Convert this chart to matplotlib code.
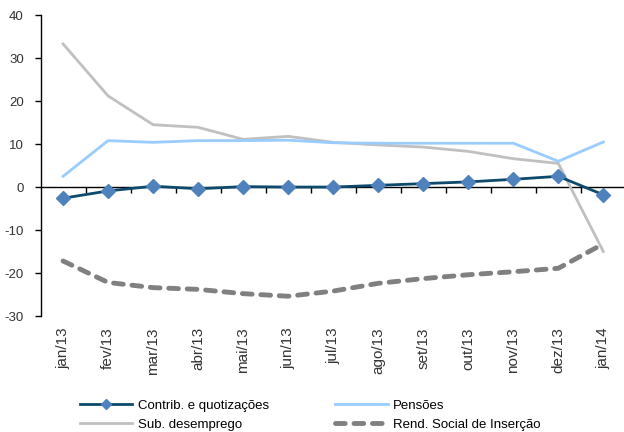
import matplotlib
matplotlib.use("Agg")
import matplotlib.pyplot as plt
import numpy as np

months = ["jan/13", "fev/13", "mar/13", "abr/13", "mai/13", "jun/13", "jul/13",
          "ago/13", "set/13", "out/13", "nov/13", "dez/13", "jan/14"]

contrib = [-2.6, -0.9, 0.2, -0.4, 0.1, 0.0, 0.0, 0.4, 0.8, 1.2, 1.8, 2.5, -1.8]
pensoes = [2.5, 10.8, 10.4, 10.8, 10.8, 10.9, 10.3, 10.2, 10.2, 10.2, 10.2, 6.0, 10.5]
sub_desemprego = [33.3, 21.2, 14.5, 13.9, 11.1, 11.8, 10.4, 9.8, 9.3, 8.3, 6.6, 5.5, -15.0]
rsi = [-17.2, -22.2, -23.4, -23.8, -24.8, -25.4, -24.2, -22.4, -21.3, -20.4, -19.7, -18.9, -13.2]

plt.rcParams["font.family"] = ["Liberation Sans", "DejaVu Sans"]
plt.rcParams["font.size"] = 9
plt.rcParams["axes.unicode_minus"] = False

fig = plt.figure(figsize=(6.24, 4.32), dpi=100)
ax = fig.add_axes([0.065, 0.2685, 0.938, 0.6965])

x = np.arange(len(months))

ax.plot(x, sub_desemprego, color="#c0c0c0", lw=2, label="Sub. desemprego", zorder=2)
ax.plot(x, pensoes, color="#99ccff", lw=2, label="Pensões", zorder=2)
ax.plot(x, rsi, color="#808080", lw=3.5, ls=(0, (2.0, 1.8)), dash_capstyle="round",
        label="Rend. Social de Inserção", zorder=2)
ax.plot(x, contrib, color="#0d4a6b", lw=2, marker="D", ms=7, mfc="#4f81bd", mec="#4f81bd",
        label="Contrib. e quotizações", zorder=3)

ax.set_xlim(-0.5, len(months) - 0.5)
ax.set_ylim(-30, 40)
ax.set_yticks(range(-30, 41, 10))

for side in ["top", "right", "bottom"]:
    ax.spines[side].set_visible(False)
ax.spines["left"].set_linewidth(1)
ax.tick_params(axis="y", length=4, width=1, direction="out", colors="black",
               labelcolor="#333333", pad=8, labelsize=9.5)

ax.set_xticks(x)
ax.set_xticklabels(months, rotation=90, fontsize=11, color="#333333")
ax.tick_params(axis="x", length=0, pad=8)

# category axis crossing at zero, ticks at category boundaries
sec = ax.secondary_xaxis(30 / 70)
sec.set_xticks(np.arange(0.5, len(months) - 0.5, 1))
sec.set_xticklabels([])
sec.tick_params(axis="x", length=4, width=1, direction="out")
sec.spines["bottom"].set_linewidth(1)

handles, labels = ax.get_legend_handles_labels()
order = [3, 0, 1, 2]
fig.legend([handles[i] for i in order], [labels[i] for i in order],
           loc="upper left", bbox_to_anchor=(73 / 624, 1 - 393 / 432), ncol=2,
           frameon=False, borderpad=0, fontsize=9.5, handlelength=4.0,
           columnspacing=5.0, handletextpad=0.4, labelspacing=0.5, markerscale=0.7)

fig.savefig("out.png", dpi=100)
